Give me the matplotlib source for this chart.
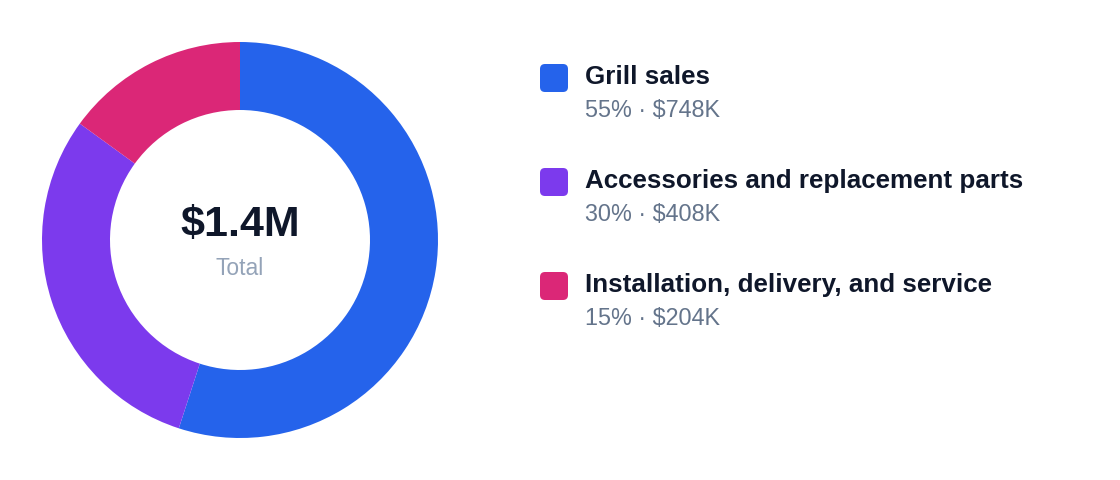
import matplotlib
matplotlib.use("Agg")
import matplotlib.pyplot as plt
from matplotlib.patches import FancyBboxPatch

plt.rcParams['font.family'] = ['Liberation Sans', 'DejaVu Sans']

categories = ["Grill sales", "Accessories and replacement parts", "Installation, delivery, and service"]
shares = [55, 30, 15]
amounts = ["$748K", "$408K", "$204K"]
colors = ["#2563EB", "#7C3AED", "#DB2777"]
total_label = "$1.4M"
total_caption = "Total"

W, H = 1120, 480
fig = plt.figure(figsize=(W / 100, H / 100), dpi=100)
ax = fig.add_axes([0, 0, 1, 1])

def Y(y):
    return H - y

cx, cy, R, ring = 240, 240, 198, 68
ax.pie(shares, colors=colors, startangle=90, counterclock=False,
       center=(cx, Y(cy)), radius=R,
       wedgeprops=dict(width=ring, linewidth=0))
ax.set_xlim(0, W)
ax.set_ylim(0, H)
ax.set_aspect('equal')
ax.axis('off')

ax.text(cx, Y(236), total_label, ha='center', va='baseline', fontsize=31,
        fontweight='bold', color='#0F172A')
ax.text(cx, Y(275), total_caption, ha='center', va='baseline', fontsize=16.5,
        color='#94A3B8')

row0, step = 84, 104
for i, (cat, s, amt, c) in enumerate(zip(categories, shares, amounts, colors)):
    base = row0 + i * step
    sq = FancyBboxPatch((540, Y(base + 8)), 28, 28,
                        boxstyle="round,pad=0,rounding_size=5",
                        facecolor=c, edgecolor='none')
    ax.add_patch(sq)
    ax.text(585, Y(base), cat, ha='left', va='baseline', fontsize=18.7,
            fontweight='bold', color='#0F172A')
    ax.text(585, Y(base + 33), f"{s}% \u00b7 {amt}", ha='left', va='baseline',
            fontsize=16.8, color='#64748B')

fig.savefig("out.png", dpi=100)
